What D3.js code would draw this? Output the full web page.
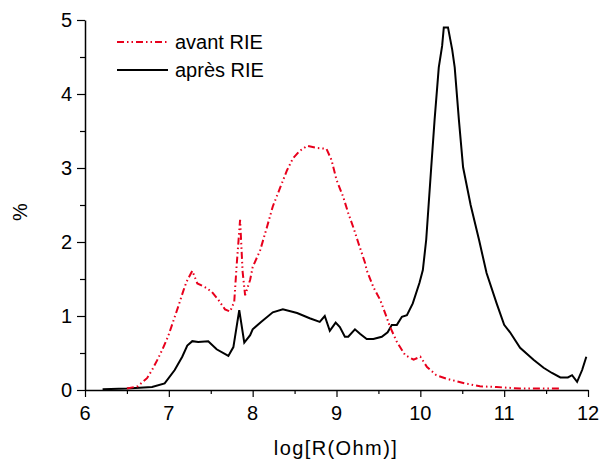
<!DOCTYPE html>
<html><head><meta charset="utf-8">
<script src="https://cdn.jsdelivr.net/npm/d3@7"></script>
<style>body{margin:0;background:#fff}svg{display:block}text{font-family:"Liberation Sans",Arial,sans-serif;fill:#000}</style>
</head><body>
<svg id="c" width="602" height="465"></svg>
<script>
const xTicks = [6,7,8,9,10,11,12];
const yTicks = [0,1,2,3,4,5];
const xLabel = "log[R(Ohm)]";
const yLabel = "%";
const seriesNames = ["avant RIE","après RIE"];

// avant RIE (red dash-dot-dot)
const avantX = [6.5,6.63,6.74,6.8,6.86,6.92,6.99,7.05,7.11,7.17,7.21,7.28,7.34,7.43,7.51,7.59,7.67,7.73,7.78,7.81,7.85,7.88,7.91,7.97,8.0,8.09,8.17,8.24,8.33,8.41,8.48,8.56,8.65,8.77,8.88,8.94,9.0,9.08,9.14,9.2,9.26,9.34,9.36,9.44,9.52,9.58,9.64,9.72,9.82,9.92,10.0,10.08,10.19,10.32,10.53,10.71,10.91,11.19,11.67];
const avantY = [0.02,0.05,0.16,0.27,0.4,0.54,0.72,0.92,1.12,1.33,1.46,1.61,1.44,1.39,1.33,1.22,1.09,1.06,1.19,1.7,2.3,1.6,1.28,1.49,1.66,1.89,2.2,2.48,2.74,2.97,3.13,3.23,3.3,3.27,3.26,3.11,2.84,2.61,2.39,2.2,1.99,1.72,1.62,1.39,1.22,1.04,0.85,0.65,0.47,0.41,0.45,0.31,0.2,0.15,0.09,0.05,0.04,0.02,0.02];

// après RIE (black solid)
const apresX = [6.21,6.5,6.8,6.95,7.07,7.16,7.22,7.28,7.35,7.47,7.57,7.71,7.77,7.84,7.9,7.97,8.0,8.1,8.24,8.36,8.53,8.68,8.8,8.86,8.92,8.99,9.04,9.1,9.14,9.22,9.28,9.36,9.44,9.54,9.61,9.66,9.72,9.78,9.84,9.91,9.99,10.03,10.07,10.13,10.17,10.22,10.26,10.28,10.33,10.38,10.41,10.46,10.51,10.6,10.7,10.79,10.91,11.0,11.07,11.19,11.35,11.47,11.57,11.67,11.76,11.81,11.87,11.93,11.98];
const apresY = [0.01,0.02,0.04,0.09,0.27,0.45,0.6,0.66,0.65,0.66,0.55,0.46,0.58,1.08,0.64,0.74,0.82,0.92,1.05,1.09,1.04,0.97,0.92,1.0,0.8,0.91,0.85,0.72,0.72,0.82,0.76,0.69,0.69,0.72,0.78,0.88,0.88,0.99,1.01,1.17,1.45,1.62,2.03,3.01,3.65,4.36,4.65,4.9,4.9,4.6,4.36,3.65,3.01,2.5,2.03,1.58,1.17,0.88,0.78,0.57,0.41,0.3,0.23,0.17,0.17,0.2,0.11,0.27,0.45];

const svg = d3.select("#c");
const x = d3.scaleLinear().domain([6,12]).range([85,588]);
const y = d3.scaleLinear().domain([0,5]).range([390,20]);

const line = d3.line().x(d=>x(d[0])).y(d=>y(d[1]));
const avant = avantX.map((v,i)=>[v,avantY[i]]);
const apres = apresX.map((v,i)=>[v,apresY[i]]);

// axes
const xAxis = svg.append("g").attr("transform","translate(0,390)");
xAxis.call(d3.axisBottom(x).tickValues(d3.range(6,12.01,0.5)).tickSize(0).tickFormat(""));
xAxis.select(".domain").attr("stroke","#000").attr("stroke-width",1.5);
xAxis.selectAll(".tick line").remove();
xAxis.selectAll(".tick").append("line").attr("y1",0)
  .attr("y2",d=>Number.isInteger(d)?7:4).attr("stroke","#000").attr("stroke-width",1.2);
svg.append("g").selectAll("text").data(xTicks).join("text")
  .attr("x",d=>x(d)).attr("y",420).attr("text-anchor","middle")
  .attr("font-size",20).text(d=>d);

const yAxis = svg.append("g").attr("transform","translate(85,0)");
yAxis.call(d3.axisLeft(y).tickValues(d3.range(0,5.01,0.5)).tickSize(0).tickFormat(""));
yAxis.select(".domain").attr("stroke","#000").attr("stroke-width",1.5);
yAxis.selectAll(".tick").append("line").attr("x1",0)
  .attr("x2",d=>Number.isInteger(d)?-8:-5).attr("stroke","#000").attr("stroke-width",1.2);
svg.append("g").selectAll("text").data(yTicks).join("text")
  .attr("x",72).attr("y",d=>y(d)+7).attr("text-anchor","end")
  .attr("font-size",20).text(d=>d);

svg.append("text").attr("x",336).attr("y",455).attr("text-anchor","middle")
  .attr("font-size",20).attr("letter-spacing","1.4px").text(xLabel);
svg.append("text").attr("transform","translate(27,212) rotate(-90)")
  .attr("text-anchor","middle").attr("font-size",20).text(yLabel);

// series
svg.append("path").datum(apres).attr("d",line).attr("fill","none")
  .attr("stroke","#000").attr("stroke-width",2);
svg.append("path").datum(avant).attr("d",line).attr("fill","none")
  .attr("stroke","#e8001c").attr("stroke-width",2)
  .attr("stroke-dasharray","7,3,1.5,3,1.5,3");

// legend
const leg = svg.append("g");
leg.append("line").attr("x1",117).attr("x2",168).attr("y1",42).attr("y2",42)
  .attr("stroke","#e8001c").attr("stroke-width",2).attr("stroke-dasharray","7,3,1.5,3,1.5,3");
leg.append("text").attr("x",175).attr("y",49).attr("font-size",20).text(seriesNames[0]);
leg.append("line").attr("x1",117).attr("x2",168).attr("y1",70).attr("y2",70)
  .attr("stroke","#000").attr("stroke-width",2);
leg.append("text").attr("x",175).attr("y",77).attr("font-size",20).text(seriesNames[1]);
</script>
</body></html>
